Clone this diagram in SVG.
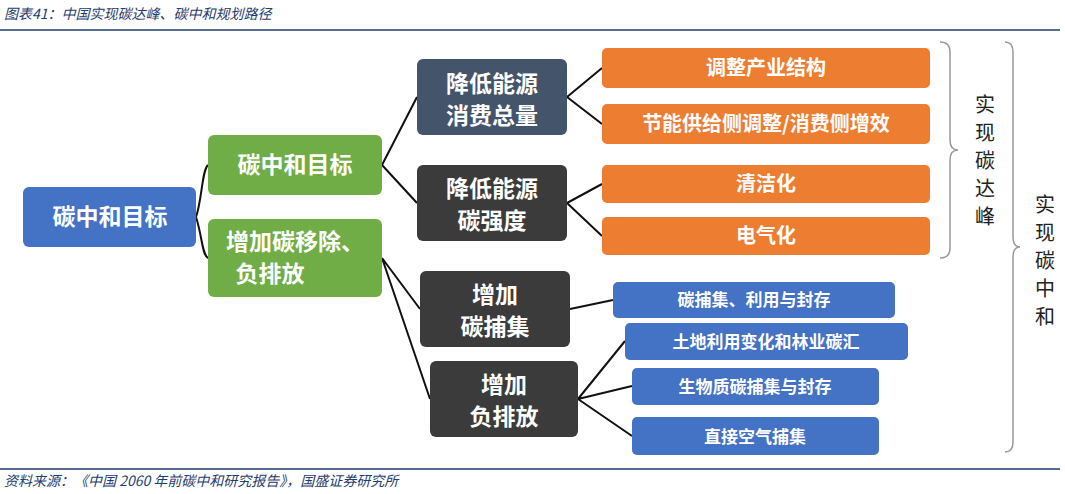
<svg xmlns="http://www.w3.org/2000/svg" width="1065" height="494" viewBox="0 0 1065 494">
<style>
text{font-family:"Noto Sans CJK SC","Liberation Sans",sans-serif}
.w{fill:#fff;text-anchor:middle;font-size:20px;font-weight:bold}
.s{fill:#fff;text-anchor:middle;font-size:17px;font-weight:bold}
.big{fill:#fff;text-anchor:middle;font-size:23px;font-weight:bold}
.c{stroke:#111;stroke-width:2;fill:none}
.b{stroke:#999;stroke-width:1.5;fill:none}
.v{fill:#222;text-anchor:middle;font-size:20px}
.hd{fill:#1f3c6e;font-size:14px;font-style:italic}
</style>
<rect width="1065" height="494" fill="#fff"/>
<text class="hd" x="4" y="19">图表41：中国实现碳达峰、碳中和规划路径</text>
<line x1="0" y1="30" x2="1060" y2="30" stroke="#1f3c6e" stroke-width="1.5"/>
<line x1="0" y1="469" x2="1060" y2="469" stroke="#1f3c6e" stroke-width="1.5"/>
<text class="hd" x="4" y="486" font-size="13">资料来源：《中国 2060 年前碳中和研究报告》，国盛证券研究所</text>
<g id="connectors">
<path class="c" d="M196 217 C202 200 202 170 208 165 M196 217 C202 235 202 255 208 258"/>
<path class="c" d="M382 165 L417 97 M382 165 L417 203 M382 258 L420 309 M382 258 L430 399"/>
<path class="c" d="M567 97 L602 68 M567 97 L602 124 M567 203 L602 184 M567 203 L602 236"/>
<path class="c" d="M570 309 L613 300 M578 399 L625 341 M578 399 L632 386 M578 399 L632 436"/>
</g>
<g id="root"><rect x="23" y="187" width="173" height="60" rx="6" fill="#4472C4"/><text class="big" x="110" y="225">碳中和目标</text></g>
<g id="g1"><rect x="208" y="135" width="174" height="60" rx="6" fill="#70AD47"/><text class="big" x="295" y="173">碳中和目标</text></g>
<g id="g2"><rect x="208" y="219" width="174" height="78" rx="6" fill="#70AD47"/><text class="big" x="295" y="250">增加碳移除、</text><text class="big" x="270" y="282">负排放</text></g>
<g id="d1"><rect x="417" y="59" width="150" height="76" rx="6" fill="#44546A"/><text class="big" x="492" y="92">降低能源</text><text class="big" x="492" y="124">消费总量</text></g>
<g id="d2"><rect x="417" y="165" width="150" height="76" rx="6" fill="#3B3B3B"/><text class="big" x="492" y="197">降低能源</text><text class="big" x="492" y="229">碳强度</text></g>
<g id="d3"><rect x="420" y="271" width="150" height="76" rx="6" fill="#3B3B3B"/><text class="big" x="495" y="303">增加</text><text class="big" x="495" y="335">碳捕集</text></g>
<g id="d4"><rect x="430" y="361" width="148" height="76" rx="6" fill="#3B3B3B"/><text class="big" x="504" y="393">增加</text><text class="big" x="504" y="425">负排放</text></g>
<g id="o1"><rect x="602" y="48" width="328" height="40" rx="5" fill="#ED7D31"/><text class="w" x="766" y="75">调整产业结构</text></g>
<g id="o2"><rect x="602" y="104" width="328" height="40" rx="5" fill="#ED7D31"/><text class="w" x="766" y="131">节能供给侧调整/消费侧增效</text></g>
<g id="o3"><rect x="602" y="165" width="328" height="38" rx="5" fill="#ED7D31"/><text class="w" x="766" y="191">清洁化</text></g>
<g id="o4"><rect x="602" y="217" width="328" height="38" rx="5" fill="#ED7D31"/><text class="w" x="766" y="243">电气化</text></g>
<g id="b1"><rect x="613" y="282" width="282" height="36" rx="5" fill="#4472C4"/><text class="s" x="754" y="306">碳捕集、利用与封存</text></g>
<g id="b2"><rect x="625" y="323" width="283" height="37" rx="5" fill="#4472C4"/><text class="s" x="766" y="348">土地利用变化和林业碳汇</text></g>
<g id="b3"><rect x="632" y="368" width="247" height="37" rx="5" fill="#4472C4"/><text class="s" x="755" y="393">生物质碳捕集与封存</text></g>
<g id="b4"><rect x="632" y="417" width="247" height="38" rx="5" fill="#4472C4"/><text class="s" x="755" y="443">直接空气捕集</text></g>
<g id="peak"><path class="b" d="M940 42 Q950 42 950 52 L950 140 Q950 150 958 150 Q950 150 950 160 L950 248 Q950 258 940 258"/>
<text class="v" x="985" y="112">实</text><text class="v" x="985" y="140">现</text><text class="v" x="985" y="168">碳</text><text class="v" x="985" y="196">达</text><text class="v" x="985" y="224">峰</text></g>
<g id="neutral"><path class="b" d="M1005 42 Q1013 42 1013 52 L1013 237 Q1013 247 1020 247 Q1013 247 1013 257 L1013 442 Q1013 452 1005 452"/>
<text class="v" x="1045" y="212">实</text><text class="v" x="1045" y="240">现</text><text class="v" x="1045" y="268">碳</text><text class="v" x="1045" y="296">中</text><text class="v" x="1045" y="324">和</text></g>
</svg>
